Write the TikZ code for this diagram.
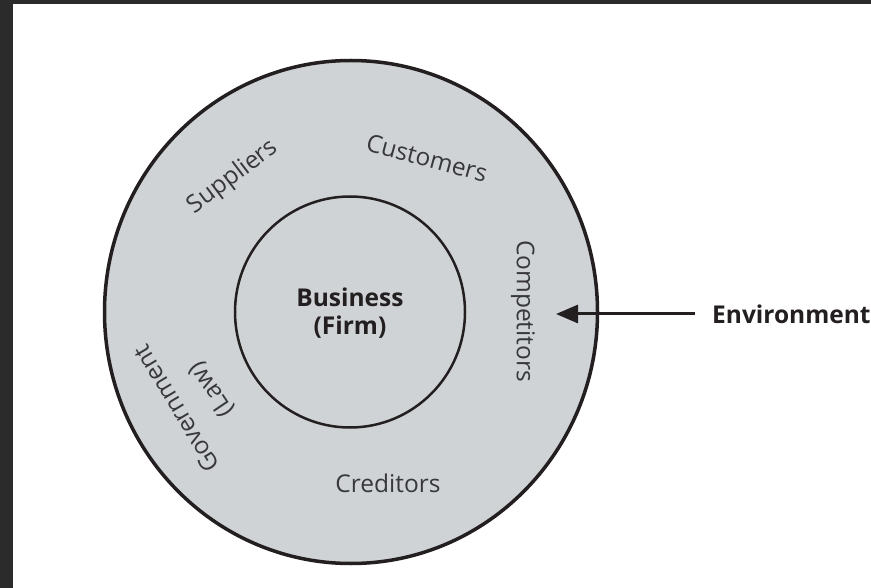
\documentclass[tikz,border=0pt]{standalone}
\usepackage{fontspec}
\setmainfont{Open Sans}
\usetikzlibrary{shapes.geometric,arrows.meta}
\definecolor{frame}{HTML}{2B2B2B}
\definecolor{ringfill}{HTML}{D0D3D6}
\definecolor{labelgray}{HTML}{38383A}
\definecolor{ink}{HTML}{231F20}
\tikzset{
  lbl/.style={text=labelgray, font=\fontsize{24.5}{28}\selectfont, inner sep=0pt},
  boldlbl/.style={text=ink, font=\fontsize{24.5}{28}\selectfont\bfseries, inner sep=0pt, align=center},
  ring/.style={draw=ink, fill=ringfill, ellipse},
  envarrow/.style={draw=ink, line width=3pt, -{Triangle[length=22pt,width=18pt]}, shorten <=17pt}
}
\begin{document}
\begin{tikzpicture}[x=1pt,y=-1pt]
\useasboundingbox (0,0) rectangle (871,588);
\fill[white] (0,0) rectangle (871,588);
\fill[frame] (0,0) rectangle (871,4);
\fill[frame] (0,0) rectangle (13,588);
\node[ring, line width=3.5pt, minimum width=493pt, minimum height=503pt] (outer) at (351,312) {};
\node[ring, line width=2.5pt, minimum width=230pt, minimum height=231pt] (inner) at (350,312) {};
\node[boldlbl] (firm) at (350,313) {Business\\(Firm)};
\node[lbl, rotate=37] (suppliers) at (233,177) {Suppliers};
\node[lbl, rotate=-15] (customers) at (427,158) {Customers};
\node[lbl, rotate=-90] (competitors) at (523,311) {Competitors};
\node[lbl, rotate=121] (government) at (176,409) {Government};
\node[lbl, rotate=124] (law) at (212,389) {(Law)};
\node[lbl] (creditors) at (388,483) {Creditors};
\node[boldlbl, anchor=west] (environment) at (712,314) {Environment};
\coordinate (tip) at (556,314);
\draw[envarrow] (environment.west) -- (tip);
\end{tikzpicture}
\end{document}
